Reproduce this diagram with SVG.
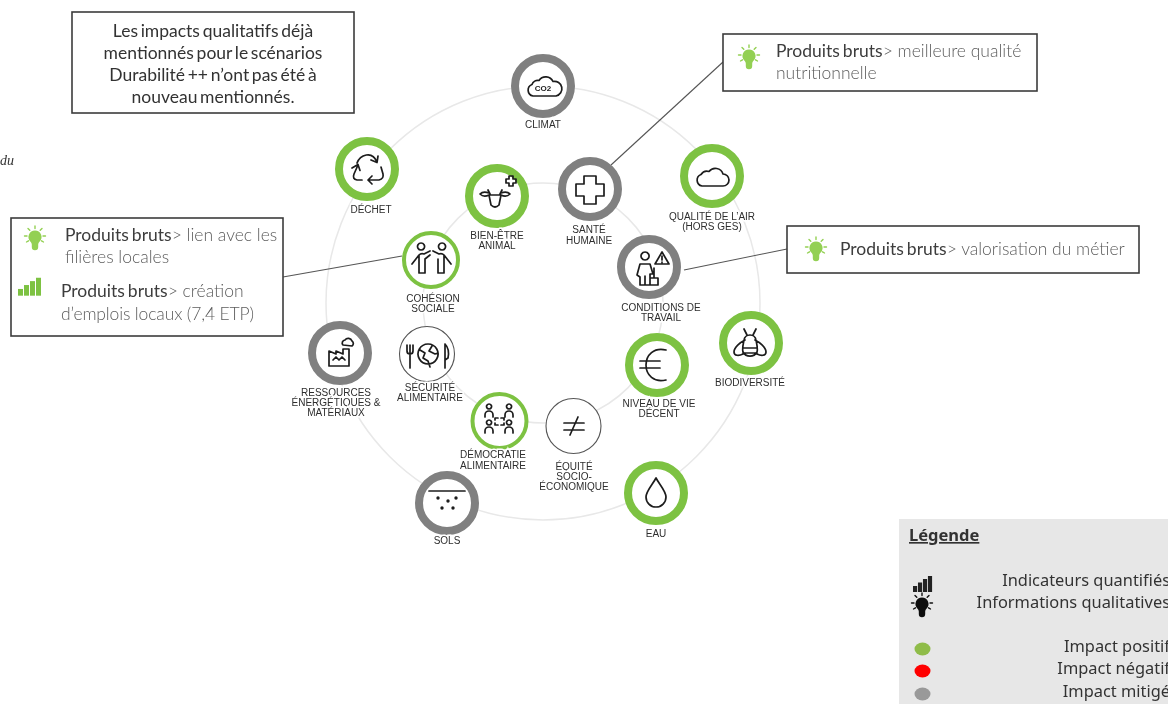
<svg xmlns="http://www.w3.org/2000/svg" width="1168" height="704" viewBox="0 0 1168 704">
<style>
.bg{fill:#fff}
.orbit{fill:none;stroke:#e8e8e8;stroke-width:1.5}
.box{fill:#fff;stroke:#3c3c3c;stroke-width:1.6}
.lead{fill:none;stroke:#555;stroke-width:1.1}
.disc{fill:#fff}
.g{stroke:#7dc242;stroke-width:8}
.m{stroke:#808080;stroke-width:8}
.gt{stroke:#7dc242;stroke-width:4}
.n{stroke:#555;stroke-width:1.1}
.ic{fill:none;stroke:#1c1c1c;stroke-width:1.7;stroke-linecap:round;stroke-linejoin:round}
.lab{font:10px "Liberation Sans",Arial,sans-serif;fill:#2e2e2e;text-anchor:middle;stroke:#fff;stroke-width:3px;paint-order:stroke}
.t{font:300 17.5px Lato,"Open Sans",sans-serif;fill:#5c5c5c}
.b{fill:#3c3c3c;font-weight:400}
.note{font:400 17.5px Lato,"Open Sans",sans-serif;fill:#333;text-anchor:middle;word-spacing:-1.8px}
.leg{font:400 16.400px "Noto Sans","Open Sans",sans-serif;fill:#333;text-anchor:end}
</style>
<defs>
<g id="bulb"><path d="M0-7.500a6.500 6.500 0 0 1 4.500 11.200c-1 1-1.200 2-1.300 3v2.300a3.200 3.200 0 0 1-6.400 0v-2.300c-.1-1-.3-2-1.300-3A6.500 6.500 0 0 1 0-7.500z" fill="currentColor"/><path d="M0-12v2.500M-7-9.500l1.800 1.800M7-9.500l-1.800 1.800M-10.500-2h2.500M8-2h2.500M-8.500 4l2-1.200M8.500 4l-2-1.200" stroke="currentColor" stroke-width="1.400" stroke-linecap="round" fill="none"/></g>
<g id="bars"><rect x="0" y="8" width="5" height="6"/><rect x="6" y="4.500" width="5" height="9.500"/><rect x="12" y="1" width="5" height="13"/><rect x="18" y="-2" width="5" height="16"/></g>
<filter id="soft" filterUnits="userSpaceOnUse" x="0" y="0" width="1168" height="704"><feGaussianBlur stdDeviation="0.4"/></filter>
</defs>
<rect class="bg" width="1168" height="704"/>
<g filter="url(#soft)">
<g id="connectors">
<circle class="orbit" cx="543" cy="303" r="217"/>
<circle class="orbit" cx="543" cy="303" r="120"/>
<path class="lead" d="M283 277L402 256"/>
<path class="lead" d="M611 165L723 62"/>
<path class="lead" d="M684 270L787 249"/>
</g>
<g id="stray"><text x="0" y="165" font-family="Liberation Serif,serif" font-style="italic" font-size="14" fill="#333">du</text></g>
<g id="note"><rect class="box" x="72" y="12" width="282" height="101"/>
<text class="note" x="213" y="37">Les impacts qualitatifs déjà</text>
<text class="note" x="213" y="59">mentionnés pour le scénarios</text>
<text class="note" x="213" y="81">Durabilité ++ n’ont pas été à</text>
<text class="note" x="213" y="103">nouveau mentionnés.</text></g>
<g id="box-cohesion"><rect class="box" x="11" y="218" width="272" height="118"/>
<use href="#bulb" x="35" y="238" color="#93d052"/>
<text class="t" x="65" y="241"><tspan class="b" word-spacing="-1.500px">Produits bruts</tspan>&gt; lien avec les</text>
<text class="t" x="65" y="263">filières locales</text>
<g fill="#7dc242" transform="translate(18 280) scale(1 1.120)"><use href="#bars"/></g>
<text class="t" x="61" y="297"><tspan class="b" word-spacing="-1.500px">Produits bruts</tspan>&gt; création</text>
<text class="t" x="61" y="320" textLength="193">d’emplois locaux (7,4 ETP)</text></g>
<g id="box-sante"><rect class="box" x="723" y="34" width="314" height="57"/>
<use href="#bulb" x="749" y="57" color="#93d052"/>
<text class="t" x="776" y="57"><tspan class="b" word-spacing="-1.500px">Produits bruts</tspan>&gt; meilleure qualité</text>
<text class="t" x="776" y="79">nutritionnelle</text></g>
<g id="box-travail"><rect class="box" x="787" y="226" width="352" height="47"/>
<use href="#bulb" x="816" y="249" color="#93d052"/>
<text class="t" x="840" y="255"><tspan class="b" word-spacing="-1.500px">Produits bruts</tspan>&gt; valorisation du métier</text></g>

<g id="climat"><circle class="disc m" cx="543" cy="86" r="28"/>
<path class="ic" d="M533 96a6 6 0 0 1-1-11.500a6 6 0 0 1 7-4a8 8 0 0 1 14 1a7 7 0 0 1 3 14.500z"/>
<text x="543" y="91" font-family="Liberation Sans,sans-serif" font-size="8" font-weight="700" fill="#1c1c1c" text-anchor="middle">CO2</text>
<text class="lab" x="543" y="128">CLIMAT</text></g>
<g id="dechet"><circle class="disc g" cx="367" cy="169" r="28"/>
<path class="ic" d="M357 163C360 155 372 150 377 162M371 160l6 2.500 1-6.500M381 167l2 7q1 5-4 6l-11 0M372 176l-4 4 4 4M362 180h-5q-5-1-3-6l4-9M352 168l6-3.500 2 6"/>
<text class="lab" x="371" y="213">DÉCHET</text></g>
<g id="air"><circle class="disc g" cx="712" cy="176" r="28"/>
<path class="ic" d="M702 186a6 6 0 0 1-1-11.500a7 7 0 0 1 8-3a8 8 0 0 1 14 2.500a6 6 0 0 1 0 12z"/>
<text class="lab" x="712" y="220">QUALITÉ DE L’AIR</text><text class="lab" x="712" y="230">(HORS GES)</text></g>
<g id="biodiversite"><circle class="disc g" cx="751" cy="343" r="28"/>
<path class="ic" d="M750 335a6 6 0 0 1 6 5c1 5 2 9 1 12a8 8 0 0 1-14 0c-1-3 0-7 1-12a6 6 0 0 1 6-5zM745 340c-4 2-11 7-11 12 0 4 5 4 9 2M755 340c4 2 11 7 11 12 0 4-5 4-9 2M743 348h14M743 353h14M747 335l-3-6M753 335l3-6"/>
<text class="lab" x="750" y="386">BIODIVERSITÉ</text></g>
<g id="eau"><circle class="disc g" cx="656" cy="493" r="28"/>
<path class="ic" d="M656 478c-3 6-10 13-10 19a10 10 0 0 0 20 0c0-6-7-13-10-19z"/>
<text class="lab" x="656" y="537">EAU</text></g>
<g id="sols"><circle class="disc m" cx="447" cy="503" r="28"/>
<path class="ic" d="M429 491h36" stroke-width="2"/>
<g fill="#1c1c1c"><circle cx="438" cy="498" r="1.700"/><circle cx="456" cy="498" r="1.700"/><circle cx="448" cy="501" r="1.700"/><circle cx="442" cy="508" r="1.700"/><circle cx="453" cy="508" r="1.700"/></g>
<text class="lab" x="447" y="544">SOLS</text></g>
<g id="ressources"><circle class="disc m" cx="340" cy="353" r="28"/>
<path class="ic" d="M329 366v-15l7 3 0-3 7 3 0-5 6 0v17zM333 360l3-3 3 3 3-3 3 3M343 345a3 3 0 0 1 2-5a4 4 0 0 1 7 1a3 3 0 0 1 0 5z"/>
<text class="lab" x="336" y="396">RESSOURCES</text><text class="lab" x="336" y="406">ÉNERGÉTIQUES &amp;</text><text class="lab" x="336" y="416">MATÉRIAUX</text></g>
<g id="sante"><circle class="disc m" cx="590" cy="189" r="28"/>
<path class="ic" d="M584 176h12v8h8v12h-8v8h-12v-8h-8v-12h8z"/>
<text class="lab" x="589" y="233">SANTÉ</text><text class="lab" x="589" y="244">HUMAINE</text></g>
<g id="bien-etre"><circle class="disc g" cx="497" cy="196" r="28"/>
<path class="ic" d="M489 195h12l-2 10q-4 4-8 0zM489 195c-4 2-7 1-9-1c2-2 6-2 9-1M501 195c4 2 7 1 9-1c-2-2-6-2-9-1M488 190l2 4M502 190l-2 4M506 179h3v-3h4v3h3v4h-3v3h-4v-3h-3z"/>
<text class="lab" x="497" y="239">BIEN-ÊTRE</text><text class="lab" x="497" y="249">ANIMAL</text></g>
<g id="cohesion"><circle class="disc gt" cx="431" cy="260" r="27"/>
<path class="ic" d="M421 250a3.500 3.500 0 1 1 .1 0zM442 250a3.500 3.500 0 1 1 .1 0zM412 264l7-9q2-2 5-1l6-3M419 255v18h6v-14l5-4M451 264l-7-9q-2-2-5-1l-6-3M444 255v18h-6v-14"/>
<text class="lab" x="433" y="302">COHÉSION</text><text class="lab" x="433" y="312">SOCIALE</text></g>
<g id="conditions"><circle class="disc m" cx="649" cy="267" r="28"/>
<path class="ic" d="M662 252l-7 12h14zM662 256v4M662 262v.5M645 260a4 4 0 1 1 .1 0zM640 264h10l3 10h-3v11h-10v-8l-3-2zM645 276v9M654 268v10M650 278h8v7h-8z" stroke-width="1.400"/>
<text class="lab" x="661" y="311">CONDITIONS DE</text><text class="lab" x="661" y="321">TRAVAIL</text></g>
<g id="niveau"><circle class="disc g" cx="657" cy="365" r="28"/>
<path class="ic" d="M666 350c-12-3-20 5-20 15s8 18 20 15M640 361h20M640 368h20"/>
<text class="lab" x="659" y="407">NIVEAU DE VIE</text><text class="lab" x="659" y="417">DÉCENT</text></g>
<g id="equite"><circle class="disc n" cx="573.500" cy="426" r="27.500"/>
<path class="ic" d="M564 423h20M564 430h20M578 417l-8 18"/>
<text class="lab" x="574" y="470">ÉQUITÉ</text><text class="lab" x="574" y="480">SOCIO-</text><text class="lab" x="574" y="490">ÉCONOMIQUE</text></g>
<g id="democratie"><circle class="disc gt" cx="499.500" cy="421" r="27"/>
<path class="ic" stroke-width="1.300" d="M489 409a2.500 2.500 0 1 1 .1 0zM489 411a4 4 0 0 0-4 4v2M489 411a4 4 0 0 1 4 4v2M509 409a2.500 2.500 0 1 1 .1 0zM509 411a4 4 0 0 0-4 4v2M509 411a4 4 0 0 1 4 4v2M489 425a2.500 2.500 0 1 1 .1 0zM489 427a4 4 0 0 0-4 4v2M489 427a4 4 0 0 1 4 4v2M509 425a2.500 2.500 0 1 1 .1 0zM509 427a4 4 0 0 0-4 4v2M509 427a4 4 0 0 1 4 4v2M495 420v-2h3M501 418h3v2M504 423v2h-3M498 425h-3v-2"/>
<text class="lab" x="493" y="458">DÉMOCRATIE</text><text class="lab" x="493" y="469">ALIMENTAIRE</text></g>
<g id="securite"><circle class="disc n" cx="427" cy="354" r="27.500"/>
<path class="ic" d="M407 345v6q0 3 3 3t3-3v-6M410 345v23M428 344a10 10 0 1 0 .1 0zM420 350l5 3-2 5 5 3 2 6M432 346l-3 5 6 3 3-1M445 344v24M445 344c3 3 4 9 3 14l-3 2"/>
<text class="lab" x="430" y="391">SÉCURITÉ</text><text class="lab" x="430" y="401">ALIMENTAIRE</text></g>

<g id="legende"><rect x="899" y="519" width="269" height="185" fill="#e7e7e7"/>
<text x="909" y="541" font-family="Noto Sans,Open Sans,sans-serif" font-size="16.500" font-weight="700" fill="#333" text-decoration="underline">Légende</text>
<g fill="#222" transform="translate(913 578) scale(.83 1)"><use href="#bars"/></g>
<use href="#bulb" x="922" y="605" color="#111"/>
<text class="leg" x="1170" y="586">Indicateurs quantifiés</text>
<text class="leg" x="1170" y="608">Informations qualitatives</text>
<ellipse cx="922.500" cy="649" rx="8" ry="6.500" fill="#8fbc4a"/>
<ellipse cx="922.500" cy="671" rx="8" ry="6.500" fill="#f00"/>
<ellipse cx="922.500" cy="694" rx="8" ry="6.500" fill="#999"/>
<text class="leg" x="1170" y="652">Impact positif</text>
<text class="leg" x="1170" y="674">Impact négatif</text>
<text class="leg" x="1170" y="697">Impact mitigé</text></g>
</g>
</svg>
